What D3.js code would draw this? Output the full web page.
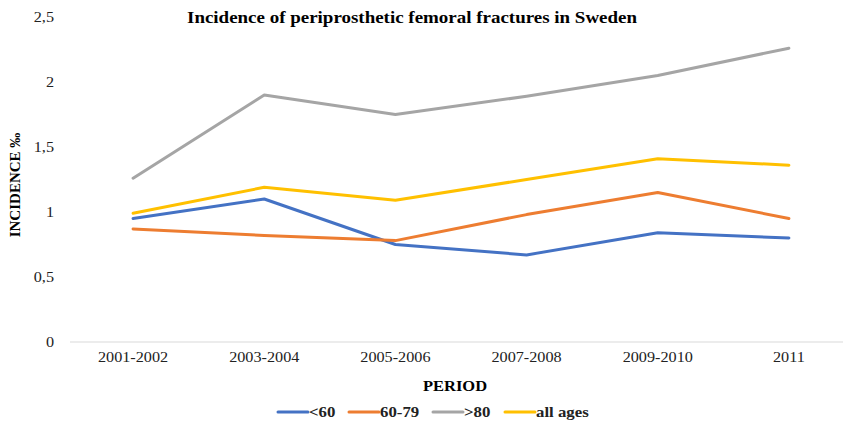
<!DOCTYPE html>
<html><head><meta charset="utf-8">
<script src="https://cdn.jsdelivr.net/npm/d3@7"></script>
<style>body{margin:0;background:#fff;} svg{display:block;}</style>
</head><body>
<svg id="chart" width="843" height="422" font-family="Liberation Serif, Times New Roman, serif"></svg>
<script>
const categories = ["2001-2002","2003-2004","2005-2006","2007-2008","2009-2010","2011"];
const seriesNames = ["<60","60-79",">80","all ages"];
const under60 = [0.95,1.10,0.75,0.67,0.84,0.80];
const age60to79 = [0.87,0.82,0.78,0.98,1.15,0.95];
const over80 = [1.26,1.90,1.75,1.89,2.05,2.26];
const allAges = [0.99,1.19,1.09,1.25,1.41,1.36];
const yTicks = [0,0.5,1,1.5,2,2.5];
const colors = ["#4472C4","#ED7D31","#A5A5A5","#FFC000"];

const svg = d3.select("#chart");
const FF = "Liberation Serif";
const x = d3.scaleBand().domain(categories).range([67.5, 854.5]);
const y = d3.scaleLinear().domain([0,2.5]).range([342,17]);

function widen(sel, f){
  sel.each(function(){ const w=this.getComputedTextLength(); d3.select(this).attr("textLength",w*f).attr("lengthAdjust","spacingAndGlyphs"); });
}

svg.append("line").attr("x1",70).attr("x2",843).attr("y1",y(0)).attr("y2",y(0))
  .attr("stroke","#d9d9d9").attr("stroke-width",1);

svg.append("g").selectAll("text").data(yTicks).join("text")
  .attr("font-family",FF)
  .attr("x",54).attr("y",d=>y(d)).attr("dy","0.35em").attr("text-anchor","end")
  .attr("font-size",15).attr("fill","#222")
  .text(d=>String(d).replace(".",",")).call(widen,1.08);

svg.append("g").selectAll("text").data(categories).join("text")
  .attr("font-family",FF)
  .attr("x",d=>x(d)+x.bandwidth()/2).attr("y",362).attr("text-anchor","middle")
  .attr("font-size",15).attr("fill","#222").text(d=>d).call(widen,1.08);

const data = [under60, age60to79, over80, allAges];
const line = d3.line().x((d,i)=>x(categories[i])+x.bandwidth()/2).y(d=>y(d));
[2,0,1,3].forEach(k=>{
  svg.append("path").datum(data[k]).attr("d",line).attr("fill","none")
    .attr("stroke",colors[k]).attr("stroke-width",3).attr("stroke-linejoin","round").attr("stroke-linecap","round");
});

svg.append("text").attr("font-family",FF).attr("x",412).attr("y",23).attr("text-anchor","middle")
  .attr("font-size",17).attr("font-weight","bold").attr("fill","#000")
  .attr("textLength",450).attr("lengthAdjust","spacingAndGlyphs")
  .text("Incidence of periprosthetic femoral fractures in Sweden");

svg.append("text").attr("font-family",FF).attr("transform","translate(20,185) rotate(-90)").attr("text-anchor","middle")
  .attr("font-size",15).attr("font-weight","bold").attr("fill","#000").text("INCIDENCE ‰");

svg.append("text").attr("font-family",FF).attr("x",455).attr("y",391).attr("text-anchor","middle")
  .attr("font-size",15).attr("font-weight","bold").attr("fill","#000").text("PERIOD").call(widen,1.1);

const legendX = [278,349,433,505];
const lg = svg.append("g");
seriesNames.forEach((n,i)=>{
  lg.append("line").attr("x1",legendX[i]).attr("x2",legendX[i]+30).attr("y1",412).attr("y2",412)
    .attr("stroke",colors[i]).attr("stroke-width",3).attr("stroke-linecap","round");
  lg.append("text").attr("font-family",FF).attr("x",legendX[i]+31).attr("y",417).attr("font-size",15).attr("font-weight","bold")
    .attr("fill","#222").text(n).call(widen,1.12);
});
</script>
</body></html>
